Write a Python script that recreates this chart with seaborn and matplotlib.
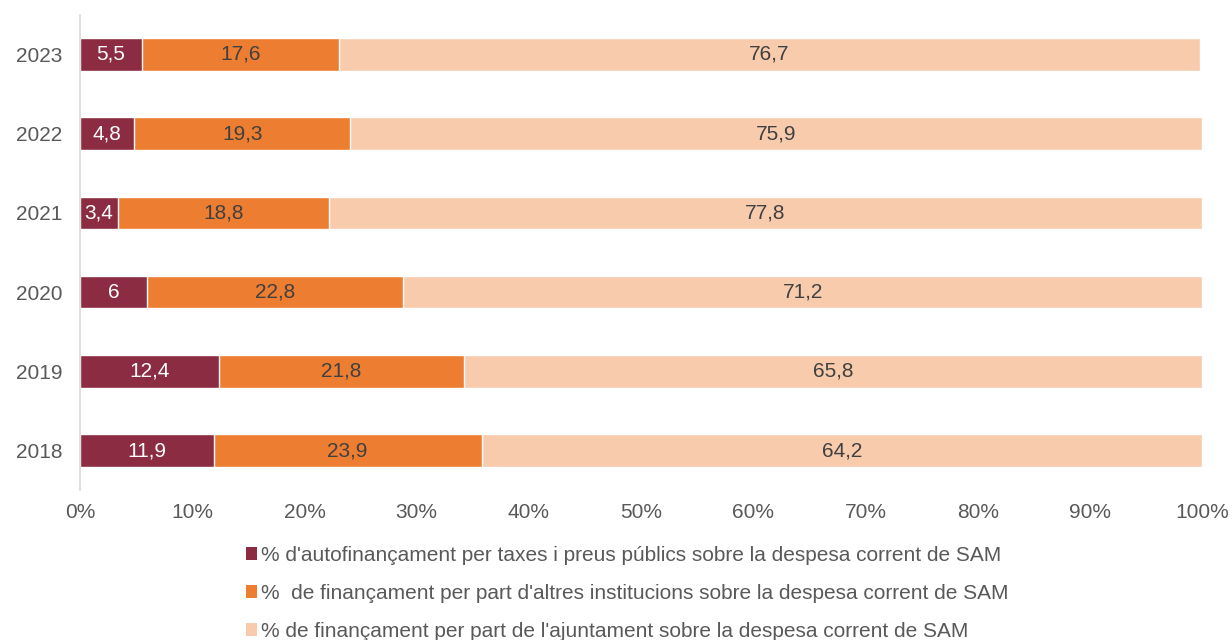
import pandas as pd
import numpy as np
import seaborn as sns
import matplotlib.pyplot as plt
from matplotlib.patches import Patch

years = ['2023', '2022', '2021', '2020', '2019', '2018']
autofin = [5.5, 4.8, 3.4, 6, 12.4, 11.9]
altres = [17.6, 19.3, 18.8, 22.8, 21.8, 23.9]
ajuntament = [76.7, 75.9, 77.8, 71.2, 65.8, 64.2]

series_names = [
    "% d'autofinançament per taxes i preus públics sobre la despesa corrent de SAM",
    "%  de finançament per part d'altres institucions sobre la despesa corrent de SAM",
    "% de finançament per part de l'ajuntament sobre la despesa corrent de SAM",
]
colors = ['#8B2C42', '#ED7D31', '#F8CBAD']
label_colors = ['white', '#404040', '#404040']

sns.set_theme(style='white')
plt.rcParams['font.family'] = ['Liberation Sans', 'DejaVu Sans']

df = pd.DataFrame({'year': years, 'a': autofin, 'b': altres, 'c': ajuntament})
df['cum_a'] = df['a']
df['cum_b'] = df['a'] + df['b']
df['cum_c'] = df['a'] + df['b'] + df['c']

fig = plt.figure(figsize=(12.32, 6.4), dpi=100)
ax = fig.add_axes([0.065, 0.234, 0.9107, 0.743])

# stacked bars: draw the cumulative totals from the largest down
for col, color in zip(['cum_c', 'cum_b', 'cum_a'], colors[::-1]):
    sns.barplot(data=df, y='year', x=col, order=years, color=color,
                orient='h', width=0.41, saturation=1, ax=ax)

# value labels in the middle of each segment
for i, row in df.iterrows():
    starts = [0, row['cum_a'], row['cum_b']]
    for val, start, tc in zip([row['a'], row['b'], row['c']], starts, label_colors):
        txt = f"{val:g}".replace('.', ',')
        ax.text(start + val / 2, i, txt, ha='center', va='center',
                fontsize=15, color=tc)

ax.set_xlim(0, 100)
ax.set_ylim(5.5, -0.5)
ax.set_xticks(np.arange(0, 101, 10))
ax.set_xticklabels([f"{t}%" for t in range(0, 101, 10)])
ax.set_xlabel('')
ax.set_ylabel('')
ax.tick_params(axis='both', length=0, labelsize=15, colors='#595959')
ax.tick_params(axis='y', pad=13)
ax.tick_params(axis='x', pad=9)
for s in ['top', 'right', 'bottom']:
    ax.spines[s].set_visible(False)
ax.spines['left'].set_color('#D9D9D9')
ax.spines['left'].set_linewidth(1.2)

handles = [Patch(facecolor=c, edgecolor='none') for c in colors]
leg = fig.legend(handles, series_names, loc='upper left',
                 bbox_to_anchor=(0.191, 0.163), frameon=False, fontsize=15,
                 handlelength=0.55, handleheight=0.55, handletextpad=0.2,
                 labelspacing=0.9, borderpad=0)
for t in leg.get_texts():
    t.set_color('#595959')

fig.savefig('out.png', dpi=100)
